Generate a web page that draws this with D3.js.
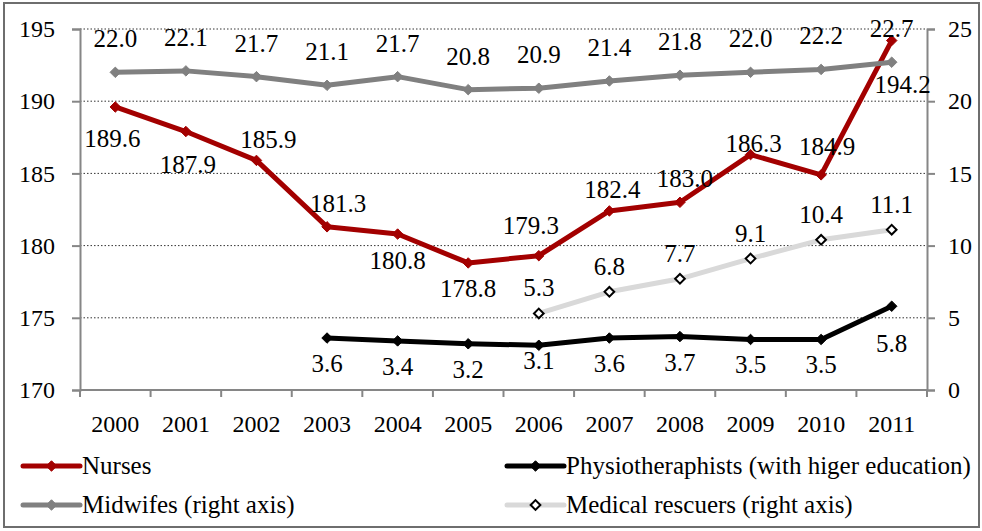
<!DOCTYPE html>
<html>
<head>
<meta charset="utf-8">
<script src="https://cdn.jsdelivr.net/npm/d3@7"></script>
</head>
<body style="margin:0; background:#fff">
<svg id="chart" width="982" height="531"></svg>
<script>
// data
const years = ['2000', '2001', '2002', '2003', '2004', '2005', '2006', '2007', '2008', '2009', '2010', '2011'];
const nurses = [189.6, 187.9, 185.9, 181.3, 180.8, 178.8, 179.3, 182.4, 183.0, 186.3, 184.9, 194.2];
const midwifes = [22.0, 22.1, 21.7, 21.1, 21.7, 20.8, 20.9, 21.4, 21.8, 22.0, 22.2, 22.7];
const physio = [null, null, null, 3.6, 3.4, 3.2, 3.1, 3.6, 3.7, 3.5, 3.5, 5.8];
const rescuers = [null, null, null, null, null, null, 5.3, 6.8, 7.7, 9.1, 10.4, 11.1];
const leftTicks = [170, 175, 180, 185, 190, 195];
const rightTicks = [0, 5, 10, 15, 20, 25];

// label nudges (dx, dy of the baseline from the point)
const nurseLabelPos = [[-3, 40], [2, 41], [12, -12], [11, -15], [0, 35], [0, 34],
  [-8, -22], [3, -13], [5, -15], [3, -3], [6, -20], [11, 52]];

const FONT = '"Liberation Serif"';

const svg = d3.select('#chart');
const m = { left: 80, right: 927, top: 29, bottom: 390 };

svg.append('rect')
  .attr('x', 4).attr('y', 3).attr('width', 975).attr('height', 524)
  .attr('fill', '#fff').attr('stroke', '#6e6e6e').attr('stroke-width', 2);

const x = d3.scaleBand().domain(years).range([m.left, m.right]);
const cx = (i) => x(years[i]) + x.bandwidth() / 2;
const yL = d3.scaleLinear().domain([170, 195]).range([m.bottom, m.top]);
const yR = d3.scaleLinear().domain([0, 25]).range([m.bottom, m.top]);

// gridlines
svg.append('g')
  .selectAll('line')
  .data(leftTicks.filter(t => t > 170))
  .join('line')
  .attr('x1', m.left).attr('x2', m.right)
  .attr('y1', d => yL(d)).attr('y2', d => yL(d))
  .attr('stroke', '#333').attr('stroke-width', 1)
  .attr('stroke-dasharray', '1.5,2');

const axisColor = '#868686';

function styleAxis (g) {
  g.attr('font-family', null);
  g.select('.domain').attr('stroke', axisColor).attr('stroke-width', 2);
  g.selectAll('.tick line').attr('stroke', axisColor).attr('stroke-width', 2);
  g.selectAll('.tick text').attr('font-size', 24).attr('fill', '#000');
}

svg.append('g').attr('transform', `translate(${m.left},0)`)
  .call(d3.axisLeft(yL).tickValues(leftTicks).tickSizeOuter(0).tickSize(8).tickPadding(17))
  .call(styleAxis);

svg.append('g').attr('transform', `translate(${m.right},0)`)
  .call(d3.axisRight(yR).tickValues(rightTicks).tickSizeOuter(0).tickSize(8).tickPadding(13))
  .call(styleAxis);

// x axis with ticks on category boundaries
const gx = svg.append('g').attr('transform', `translate(0,${m.bottom})`);
gx.append('line').attr('x1', m.left).attr('x2', m.right)
  .attr('stroke', axisColor).attr('stroke-width', 2);
gx.selectAll('line.tk')
  .data(d3.range(years.length + 1))
  .join('line').attr('class', 'tk')
  .attr('x1', i => m.left + i * x.bandwidth()).attr('x2', i => m.left + i * x.bandwidth())
  .attr('y1', 0).attr('y2', 7)
  .attr('stroke', axisColor).attr('stroke-width', 2);
gx.selectAll('text')
  .data(years)
  .join('text')
  .attr('x', (d, i) => cx(i)).attr('y', 42)
  .attr('text-anchor', 'middle').attr('font-size', 24)
  .text(d => d);

const diamond = d3.symbol().type(d3.symbolDiamond2);

const series = [
  { name: 'Nurses', values: nurses, y: yL, color: '#A30000', marker: 'fill', size: 70 },
  { name: 'Physiotheraphists (with higer education)', values: physio, y: yR, color: '#000', marker: 'fill', size: 70 },
  { name: 'Midwifes (right axis)', values: midwifes, y: yR, color: '#808080', marker: 'fill', size: 70 },
  { name: 'Medical rescuers (right axis)', values: rescuers, y: yR, color: '#D9D9D9', marker: 'open', size: 60 }
];

function drawMarker (sel, s) {
  if (s.marker === 'open') {
    sel.attr('d', diamond.size(s.size)()).attr('fill', '#fff')
      .attr('stroke', '#000').attr('stroke-width', 2);
  } else {
    sel.attr('d', diamond.size(s.size)()).attr('fill', s.color)
      .attr('stroke', s.color).attr('stroke-width', 1);
  }
}

const plot = svg.append('g');
series.forEach(s => {
  const pts = s.values.map((v, i) => ({ v, i }));
  const line = d3.line()
    .defined(d => d.v != null)
    .x(d => cx(d.i)).y(d => s.y(d.v));
  plot.append('path').datum(pts)
    .attr('d', line).attr('fill', 'none')
    .attr('stroke', s.color).attr('stroke-width', 5)
    .attr('stroke-linejoin', 'round');
  plot.append('g').selectAll('path')
    .data(pts.filter(d => d.v != null))
    .join('path')
    .attr('transform', d => `translate(${cx(d.i)},${s.y(d.v)})`)
    .call(sel => drawMarker(sel, s));
});

// data labels
const labels = svg.append('g').attr('font-size', 25).attr('text-anchor', 'middle');
nurses.forEach((v, i) => {
  labels.append('text')
    .attr('x', cx(i) + nurseLabelPos[i][0]).attr('y', yL(v) + nurseLabelPos[i][1])
    .text(v.toFixed(1));
});
midwifes.forEach((v, i) => {
  labels.append('text').attr('x', cx(i)).attr('y', yR(v) - 25).text(v.toFixed(1));
});
physio.forEach((v, i) => {
  if (v == null) return;
  const dy = i === 11 ? 46 : (i === 6 ? 24 : 34);
  labels.append('text').attr('x', cx(i)).attr('y', yR(v) + dy).text(v.toFixed(1));
});
rescuers.forEach((v, i) => {
  if (v == null) return;
  labels.append('text').attr('x', cx(i)).attr('y', yR(v) - 17).text(v.toFixed(1));
});

// legend
const legendPos = [[23, 466], [507, 466], [23, 505], [507, 505]];
const lg = svg.append('g');
series.forEach((s, k) => {
  const [lx, ly] = legendPos[k];
  const g = lg.append('g').attr('transform', `translate(${lx},${ly})`);
  g.append('line').attr('x1', 0).attr('x2', 57)
    .attr('stroke', s.color).attr('stroke-width', 5).attr('stroke-linecap', 'round');
  g.append('path').attr('transform', 'translate(28.5,0)').call(sel => drawMarker(sel, s));
  g.append('text').attr('x', 59).attr('y', 0).attr('dy', '0.33em')
    .attr('font-size', 25).text(s.name);
});

// serif everywhere, set inline so nothing overrides it
svg.selectAll('text').style('font-family', FONT).style('fill', '#000');
</script>
</body>
</html>
